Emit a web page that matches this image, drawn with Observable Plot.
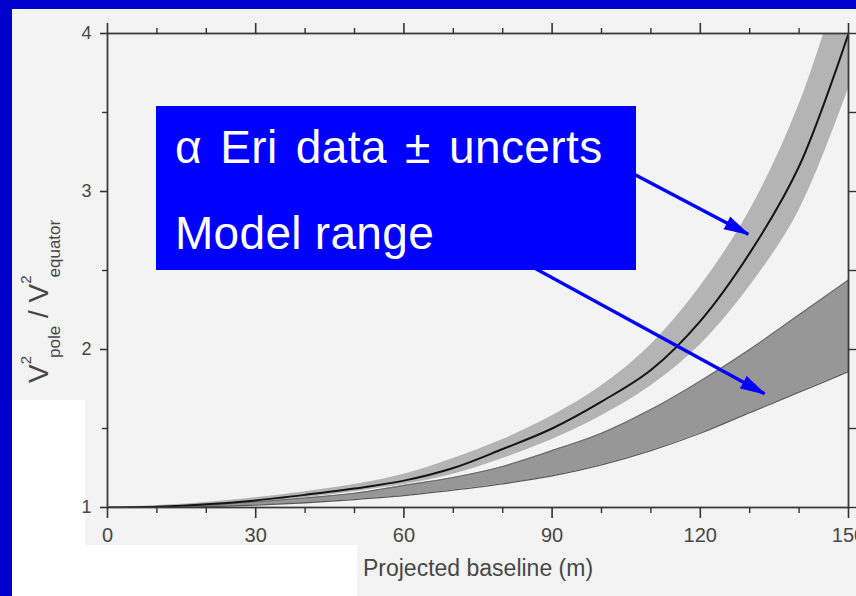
<!DOCTYPE html>
<html>
<head>
<meta charset="utf-8">
<script src="https://cdn.jsdelivr.net/npm/d3@7"></script>
<script src="https://cdn.jsdelivr.net/npm/@observablehq/plot@0.6"></script>
<style>
html, body { margin: 0; padding: 0; width: 856px; height: 596px; overflow: hidden; background: #0000cc; }
#slide { position: absolute; left: 12px; top: 9px; width: 844px; height: 587px; background: #ffffff; overflow: hidden; }
#scan { position: absolute; left: 0; top: 0; width: 844px; height: 587px; background: #f3f3f3;
  clip-path: polygon(0 0, 844px 0, 844px 587px, 345px 587px, 345px 536px, 73px 536px, 73px 391px, 0 391px); }
#chart { position: absolute; left: 0; top: 0; }
#note { position: absolute; left: 156px; top: 106px; width: 480px; height: 164px; background: #0000ff; color: #ffffff;
  font-family: "Liberation Sans", Arial, sans-serif; font-size: 46px; box-sizing: border-box; padding-left: 19px; }
#note div { line-height: 86px; height: 86px; white-space: nowrap; }
#note .l1 { margin-top: -2px; letter-spacing: 0.4px; word-spacing: 5px; }
#note .l2 { margin-top: 0px; letter-spacing: 0.3px; }
</style>
</head>
<body>
<div id="slide">
  <div id="scan"></div>
  <div id="chart"></div>
</div>
<div id="note"><div class="l1">α Eri data ± uncerts</div><div class="l2">Model range</div></div>
<script>
// Projected baseline (m)
const baseline  = [0, 10, 20, 30, 40, 50, 60, 70, 80, 90, 100, 110, 120, 130, 140, 150];
// alpha Eri data: V²pole / V²equator and its uncertainty envelope
const eriRatio  = [1.0, 1.005, 1.02, 1.045, 1.08, 1.12, 1.17, 1.25, 1.37, 1.5, 1.67, 1.87, 2.18, 2.61, 3.16, 4.0];
const eriLow    = [1.0, 1.001, 1.011, 1.032, 1.062, 1.10, 1.145, 1.21, 1.31, 1.43, 1.58, 1.77, 2.03, 2.40, 2.88, 3.65];
const eriHigh   = [1.0, 1.012, 1.032, 1.062, 1.10, 1.145, 1.21, 1.31, 1.43, 1.58, 1.77, 2.03, 2.40, 2.88, 3.55, 4.5];
// Model range
const modelLow  = [1.0, 1.0, 1.005, 1.015, 1.03, 1.05, 1.075, 1.11, 1.15, 1.20, 1.27, 1.36, 1.47, 1.60, 1.73, 1.86];
const modelHigh = [1.0, 1.005, 1.015, 1.035, 1.06, 1.09, 1.14, 1.19, 1.26, 1.36, 1.47, 1.62, 1.80, 2.00, 2.22, 2.44];
// Ticks
const xTicks = [0, 30, 60, 90, 120, 150];
const xMinor = [10, 20, 40, 50, 70, 80, 100, 110, 130, 140];
const yTicks = [1, 2, 3, 4];
const yMinor = [1.5, 2.5, 3.5];
// Annotation arrows (from the label box to the bands), in data units
const arrowFromX = [99.3, 79.7];
const arrowFromY = [3.23, 2.63];
const arrowToX   = [129.7, 133.0];
const arrowToY   = [2.73, 1.72];

const W = 844, H = 587, mT = 24, mR = 8, mB = 89, mL = 95;
const kx = (W - mL - mR) / 150, ky = (H - mT - mB) / 3; // px per data unit (for arrowhead direction)

const rows = baseline.map((b, i) => ({
  b, eri: eriRatio[i], eriLo: eriLow[i], eriHi: eriHigh[i], modLo: modelLow[i], modHi: modelHigh[i]
}));
const arrows = arrowFromX.map((x, i) => {
  const dx = (arrowToX[i] - x) * kx, dyUp = (arrowToY[i] - arrowFromY[i]) * ky;
  return {x1: x, y1: arrowFromY[i], x2: arrowToX[i], y2: arrowToY[i], angle: Math.atan2(dx, dyUp) * 180 / Math.PI};
});

const font = "Liberation Sans, Arial, Helvetica, sans-serif";
const ink = "#474747";
const blank = () => "";
const curve = "catmull-rom";

const chart = Plot.plot({
  width: W,
  height: H,
  marginTop: mT,
  marginRight: mR,
  marginBottom: mB,
  marginLeft: mL,
  style: {background: "transparent", fontFamily: font, fontSize: "20px", color: ink, overflow: "visible"},
  x: {domain: [0, 150], label: null},
  y: {domain: [1, 4], label: null},
  marks: [
    Plot.areaY(rows, {x: "b", y1: "eriLo", y2: "eriHi", fill: "#b4b4b4", curve, clip: true}),
    Plot.areaY(rows, {x: "b", y1: "modLo", y2: "modHi", fill: "#979797", curve, clip: true}),
    Plot.line(rows, {x: "b", y: "modLo", stroke: "#5a5a5a", strokeWidth: 1.3, curve, clip: true}),
    Plot.line(rows, {x: "b", y: "modHi", stroke: "#6a6a6a", strokeWidth: 1.1, curve, clip: true}),
    Plot.line(rows, {x: "b", y: "eri", stroke: "#151515", strokeWidth: 2, curve, clip: true}),
    Plot.frame({stroke: "#3a3a3a", strokeWidth: 1.8}),
    Plot.axisX(xTicks, {anchor: "bottom", tickSize: 11, tickPadding: 9, fontSize: 20, stroke: "#333", strokeWidth: 1.6, fill: ink, label: null}),
    Plot.axisX(xMinor, {anchor: "bottom", tickSize: 6, stroke: "#333", strokeWidth: 1.4, tickFormat: blank, label: null}),
    Plot.axisX(xTicks, {anchor: "top", tickSize: 11, stroke: "#333", strokeWidth: 1.6, tickFormat: blank, label: null}),
    Plot.axisX(xMinor, {anchor: "top", tickSize: 6, stroke: "#333", strokeWidth: 1.4, tickFormat: blank, label: null}),
    Plot.axisY(yTicks, {anchor: "left", tickSize: 7, tickPadding: 9, fontSize: 18, tickFormat: d3.format("d"), stroke: "#333", strokeWidth: 1.6, fill: ink, label: null}),
    Plot.axisY(yMinor, {anchor: "left", tickSize: 5, stroke: "#333", strokeWidth: 1.4, tickFormat: blank, label: null}),
    Plot.axisY(yTicks.concat(yMinor), {anchor: "right", tickSize: 7, stroke: "#333", strokeWidth: 1.4, tickFormat: blank, label: null}),
    Plot.text(["Projected baseline (m)"], {frameAnchor: "bottom", dy: 68, fontSize: 23, fill: ink}),
    Plot.link(arrows, {x1: "x1", y1: "y1", x2: "x2", y2: "y2", stroke: "#0000ff", strokeWidth: 3.4}),
    Plot.vector(arrows, {x: "x2", y: "y2", rotate: "angle", length: 24, r: 6.5, shape: "spike", anchor: "end", fill: "#0000ff", stroke: "#0000ff", strokeWidth: 1})
  ]
});

// tick label sizes
d3.select(chart).selectAll("g[aria-label='x-axis tick label'] text").style("font-size", "20px");
d3.select(chart).selectAll("g[aria-label='y-axis tick label'] text").style("font-size", "18px");

// y-axis label with super/subscripts
const t = d3.select(chart).append("text")
  .attr("transform", "translate(36,374) rotate(-90)")
  .attr("text-anchor", "start")
  .attr("fill", ink)
  .style("font-family", font)
  .style("font-size", "28px");
t.append("tspan").text("V");
t.append("tspan").attr("dy", -17).style("font-size", "15px").text("2");
t.append("tspan").attr("dy", 29).attr("dx", -2).style("font-size", "17px").text("pole");
t.append("tspan").attr("dy", -12).text(" / V");
t.append("tspan").attr("dy", -17).style("font-size", "15px").text("2");
t.append("tspan").attr("dy", 29).attr("dx", -2).style("font-size", "17px").text("equator");

document.getElementById("chart").appendChild(chart);
</script>
</body>
</html>
